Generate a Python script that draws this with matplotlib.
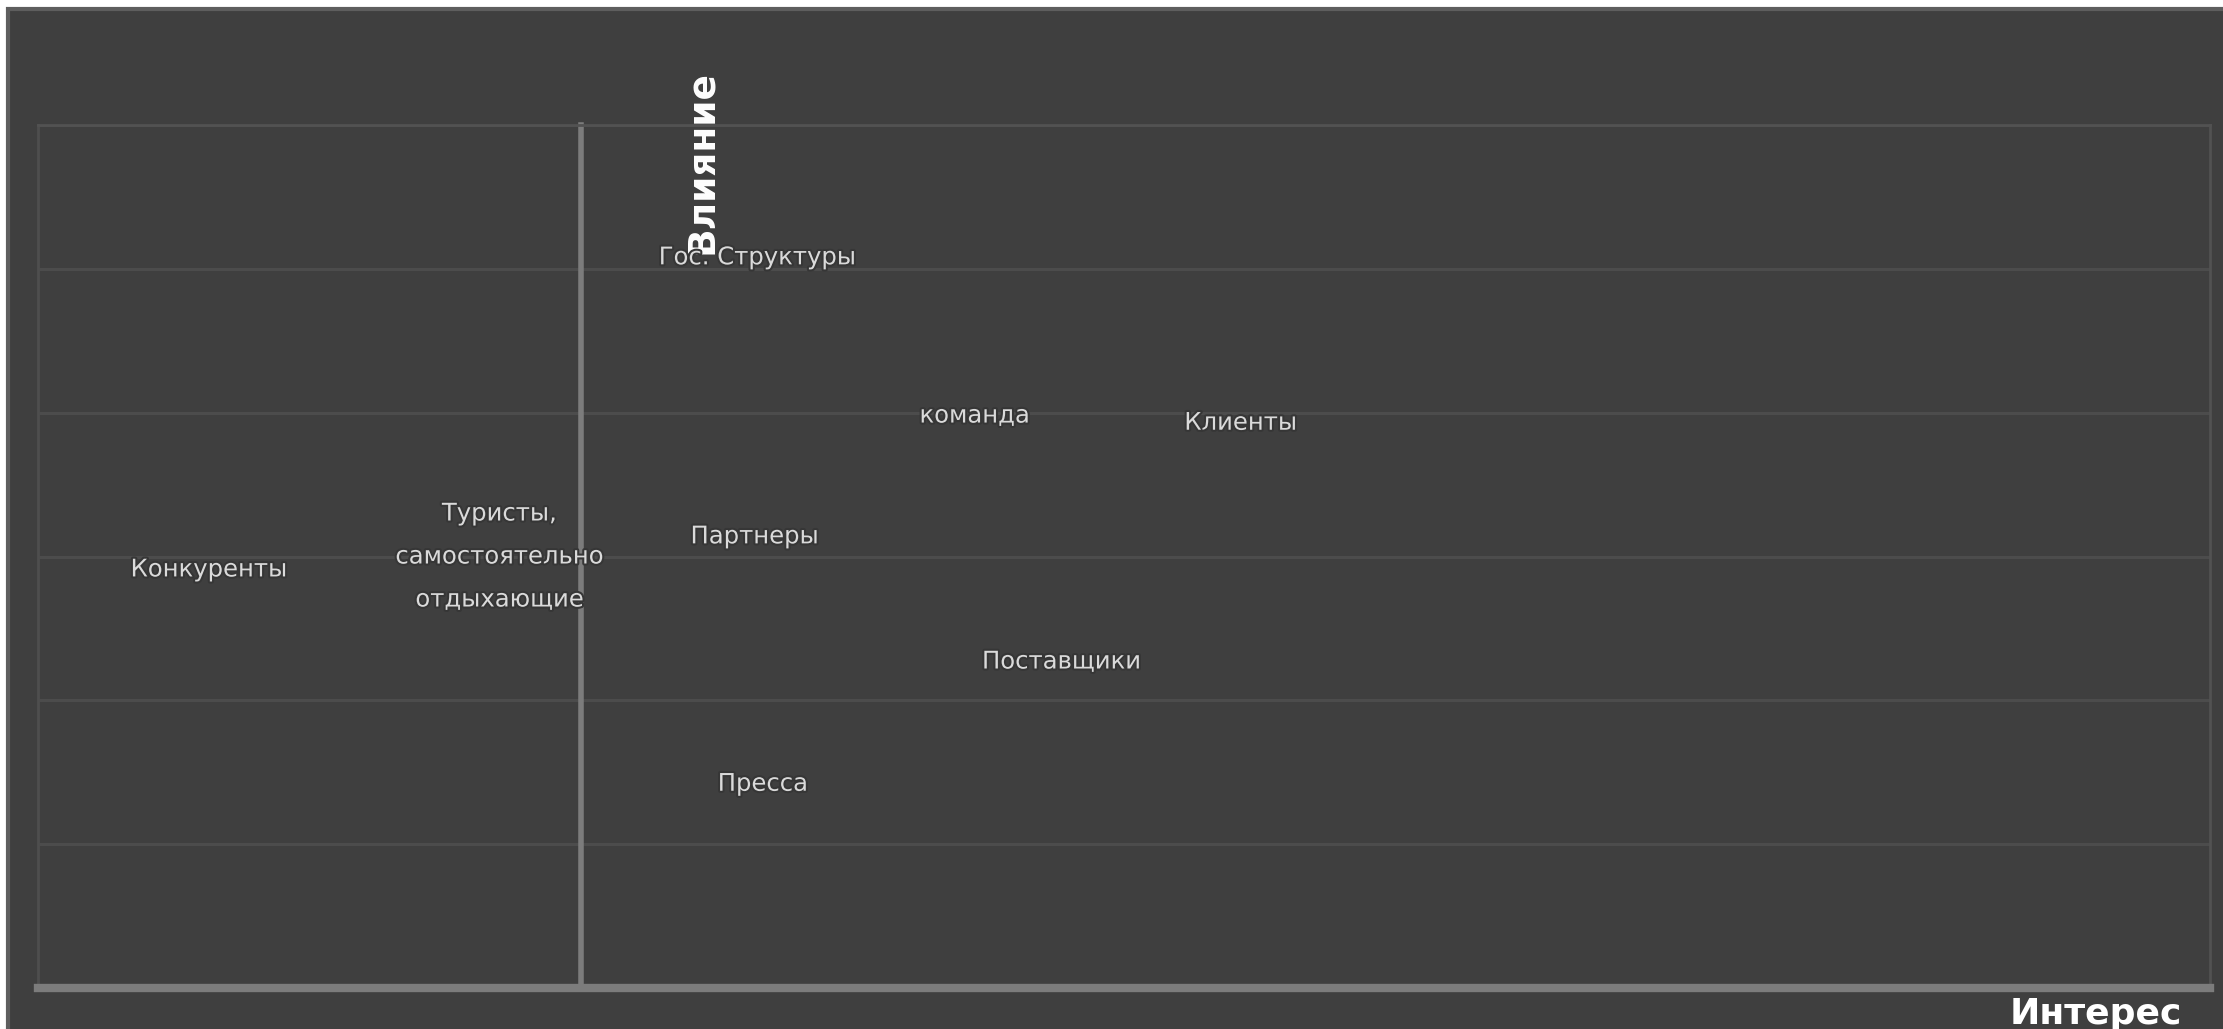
import matplotlib.pyplot as plt
from matplotlib.patches import Rectangle
import matplotlib.patheffects as pe

# stakeholder map: interest (x) vs influence (y)
names = ['Конкуренты', 'Туристы,\nсамостоятельно\nотдыхающие', 'Гос. Структуры',
         'Партнеры', 'Пресса', 'команда', 'Поставщики', 'Клиенты']
interest = [-1.37, -0.30, 0.65, 0.64, 0.67, 1.45, 1.77, 2.43]
influence = [2.91, 3.00, 5.08, 3.14, 1.42, 3.98, 2.27, 3.93]

x_lim = (-2, 6)
y_ticks = [0, 1, 2, 3, 4, 5, 6]

bg = '#3f3f3f'
W, H = 2223, 1029

fig = plt.figure(figsize=(W / 100, H / 100), dpi=100, facecolor='white')
# dark panel with white strip on top/left, like the screenshot
panel = Rectangle((8 / W, -0.1), 1.2, 1 - 9 / H + 0.1,
                  transform=fig.transFigure, facecolor=bg,
                  edgecolor='#5e5e5e', linewidth=3, zorder=-10)
fig.patches.append(panel)

ax = fig.add_axes([38 / W, 1 - 988 / H, (2210 - 38) / W, (988 - 125) / H])
ax.set_zorder(1)
ax.patch.set_alpha(0)

ax.set_xlim(*x_lim)
ax.set_ylim(y_ticks[0], y_ticks[-1])
ax.set_yticks(y_ticks)
ax.set_xticks([])
ax.tick_params(left=False, labelleft=False, bottom=False, labelbottom=False)

# horizontal gridlines
for yv in y_ticks[1:]:
    ax.axhline(yv, color='#4c4c4c', linewidth=2.2, zorder=1)

# plot area frame
for s in ['top', 'right']:
    ax.spines[s].set_color('#525252')
    ax.spines[s].set_linewidth(2)
ax.plot([0, 0], [0, 1], transform=ax.transAxes, color='#4e4e4e', lw=2, clip_on=False)

# axes lines: vertical crosses at x = 0
ax.spines['left'].set_position(('data', 0))
ax.spines['left'].set_color('#7c7c7c')
ax.spines['left'].set_linewidth(4)
ax.spines['bottom'].set_color('#7c7c7c')
ax.spines['bottom'].set_linewidth(6)
ax.spines['bottom'].set_zorder(3)

glow = [pe.withStroke(linewidth=3, foreground='#363636')]
for n, xv, yv in zip(names, interest, influence):
    ax.text(xv, yv, n, ha='center', va='center', color='#dadada',
            fontsize=17.5, linespacing=2.0, zorder=5, path_effects=glow)

ax.set_ylabel('Влияние', color='white', fontsize=27, fontweight='bold', va='center')
ax.yaxis.set_label_coords((702 - 38) / 2172, (988 - 162) / 863)
ax.set_xlabel('Интерес', color='white', fontsize=26, fontweight='bold', va='baseline')
ax.xaxis.set_label_coords((2096 - 38) / 2172, (988 - 1024) / 863)

fig.savefig('out.png', dpi=100, facecolor=fig.get_facecolor())
